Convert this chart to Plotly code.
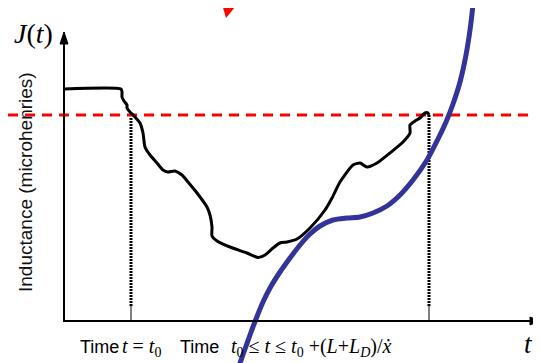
import plotly.graph_objects as go

# time (horizontal) and inductance (vertical), origin at the axes corner
curve_t = [0, 57, 58, 58, 60, 63, 63, 66, 71, 76, 79, 81, 86, 93, 99, 104, 111, 118, 124, 133,
           143, 146, 148, 148, 153, 166, 183, 194, 201, 209, 216, 223, 233, 246, 261, 268, 276,
           289, 296, 303, 313, 326, 339, 346, 346, 351, 356, 361, 364, 365]
curve_J = [232, 232, 229, 224, 220, 216, 213, 209, 204, 198, 188, 174, 166, 158, 151, 149, 150,
           146, 139, 128, 114, 106, 94, 85, 80, 74, 68, 63.5, 66, 73, 78, 79, 82, 93, 111, 123,
           139, 156, 158, 154, 158, 168, 179, 188, 196, 200, 203, 208, 208, 206]

fit_t = [172, 176, 181, 186, 192, 199, 206, 216, 226, 236, 246, 256, 269, 283, 296, 309, 323,
         336, 349, 363, 374, 382, 389, 396, 402, 406, 409, 410]
fit_J = [-54, -42, -28, -14, 2, 19, 33, 49, 63, 76, 87, 95, 101, 103, 104, 108, 115, 126, 141,
         161, 182, 199, 217, 239, 266, 291, 316, 326]

threshold_J = 206
t_start, t_end = 67, 365
J_start, J_end = 204, 206
solid_stub = 15

# the page adds an 8px body margin, so the figure is drawn 8px smaller
x_range = [-56, 477]
y_range = [-42, 313]
y_axis_top = 289
x_axis_end = 476

marker_t = [154, 185, 162]
marker_J = [331, 331, 303]

fig = go.Figure()

# red threshold
fig.add_trace(go.Scatter(x=x_range, y=[threshold_J, threshold_J], mode="lines",
                         line=dict(color="#ff0000", width=3, dash="10px,7px")))

# dotted markers at start/end times
for t0, j0 in [(t_start, J_start), (t_end, J_end)]:
    fig.add_trace(go.Scatter(x=[t0, t0], y=[solid_stub, j0], mode="lines",
                             line=dict(color="black", width=3, dash="2px,1px")))
    fig.add_trace(go.Scatter(x=[t0, t0], y=[0, solid_stub], mode="lines",
                             line=dict(color="black", width=1)))

# measured inductance
fig.add_trace(go.Scatter(x=curve_t, y=curve_J, mode="lines",
                         line=dict(color="black", width=3, shape="spline", smoothing=0.6)))

# fitted curve
fig.add_trace(go.Scatter(x=fit_t, y=fit_J, mode="lines",
                         line=dict(color="#333399", width=5, shape="spline", smoothing=0.8)))

# red triangle pointer
fig.add_trace(go.Scatter(x=marker_t, y=marker_J, mode="lines", fill="toself",
                         fillcolor="#ff0000", line=dict(color="#ff0000", width=0)))

# axes with arrow heads
fig.add_trace(go.Scatter(x=[0, 0, x_axis_end - 8], y=[y_axis_top - 10, 0, 0], mode="lines",
                         line=dict(color="black", width=2)))
fig.add_trace(go.Scatter(x=[-4, 0, 4, -4], y=[y_axis_top - 12, y_axis_top, y_axis_top - 12,
                                               y_axis_top - 12],
                         mode="lines", fill="toself", fillcolor="black",
                         line=dict(color="black", width=1)))
fig.add_trace(go.Scatter(x=[x_axis_end - 10, x_axis_end, x_axis_end - 10, x_axis_end - 10],
                         y=[-4, 0, 4, -4], mode="lines", fill="toself", fillcolor="black",
                         line=dict(color="black", width=1)))

serif = "Liberation Serif, Times New Roman, serif"
sans = "Liberation Sans, Arial, sans-serif"

annotations = [
    dict(x=-31, y=288, text="<i>J</i>(<i>t</i>)", font=dict(family=serif, size=28)),
    dict(x=464, y=-23, text="<i>t</i>", font=dict(family=serif, size=27)),
    dict(x=-39, y=139, text="Inductance (microhenries)", textangle=-90,
         font=dict(family=sans, size=19, color="#111")),
    dict(x=14, y=-26, text="Time", xanchor="left", font=dict(family=sans, size=18)),
    dict(x=56, y=-26, text="<i>t</i> = <i>t</i><sub>0</sub>", xanchor="left",
         font=dict(family=serif, size=20)),
    dict(x=114, y=-26, text="Time", xanchor="left", font=dict(family=sans, size=18)),
    dict(x=165, y=-26,
         text="<i>t</i><sub>0</sub> ≤ <i>t</i> ≤ <i>t</i><sub>0</sub> +(<i>L</i>+<i>L<sub>D</sub></i>)/<i>ẋ</i>",
         xanchor="left", font=dict(family=serif, size=20)),
]
for a in annotations:
    a.setdefault("xanchor", "center")
    a.update(showarrow=False, xref="x", yref="y", yanchor="middle")
    a["font"].setdefault("color", "black")

fig.update_layout(
    width=533, height=355,
    margin=dict(l=0, r=0, t=0, b=0),
    plot_bgcolor="white", paper_bgcolor="white",
    showlegend=False,
    annotations=annotations,
    xaxis=dict(range=x_range, visible=False, fixedrange=True),
    yaxis=dict(range=y_range, visible=False, fixedrange=True),
)

fig.write_html("out.html")
